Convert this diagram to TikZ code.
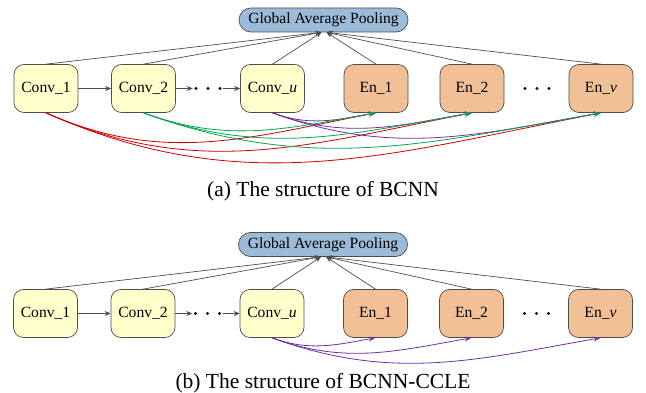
\documentclass[tikz,border=0pt]{standalone}
\usepackage{fontspec}
\setmainfont{Liberation Serif}
\newfontfamily\timesfont{Liberation Serif}
\usetikzlibrary{arrows.meta,calc}
\definecolor{convfill}{HTML}{FFFFCC}
\definecolor{enfill}{HTML}{F2C097}
\definecolor{gapfill}{HTML}{9BBBD9}
\definecolor{edgegray}{HTML}{4D4D4D}
\definecolor{cred}{HTML}{CC0000}
\definecolor{cgreen}{HTML}{00A651}
\definecolor{cpurple}{HTML}{7030A0}
\begin{document}
\begin{tikzpicture}[x=1pt,y=1pt,
  font=\timesfont\fontsize{15.6}{18}\selectfont,
  box/.style={draw=edgegray, rounded corners=10pt, minimum width=64pt, minimum height=48pt, inner sep=0pt, line width=0.7pt},
  conv/.style={box, fill=convfill},
  en/.style={box, fill=enfill},
  gapbox/.style={draw=edgegray, fill=gapfill, rounded corners=12pt, minimum width=169pt, minimum height=24pt, inner sep=0pt, line width=0.7pt},
  garrow/.style={draw=edgegray, line width=0.7pt, -{Stealth[length=6pt,width=5pt]}},
  skip/.style={line width=0.8pt, -{Stealth[length=7pt,width=5pt]}, out=-20, in=-170},
  deepskip/.style={skip, out=-24, in=-169},
  dotsbox/.style={minimum width=30pt, minimum height=4pt, inner sep=0pt},
  captext/.style={font=\timesfont\fontsize{21.5}{24}\selectfont, anchor=base}
]
\useasboundingbox (0,0) rectangle (646,-393);

% ---------- panel (a) ----------
\node[gapbox] (gapA) at (323.5,-20) {Global Average Pooling};
\node[conv] (c1A) at (46,-88.5) {Conv\_1};
\node[conv] (c2A) at (143.5,-88.5) {Conv\_2};
\node[conv] (cuA) at (272.5,-88.5) {Conv\_\textit{u}};
\node[en] (e1A) at (376,-88.5) {En\_1};
\node[en] (e2A) at (472,-88.5) {En\_2};
\node[en] (evA) at (601,-88.5) {En\_\textit{v}};
\node[dotsbox] (d1A) at (208,-88.5) {};
\node[dotsbox] (d2A) at (537,-88.5) {};
\foreach \dx in {-12,0,12} {
  \fill ($(d1A.center)+(\dx,0)$) circle (1.6);
  \fill ($(d2A.center)+(\dx,0)$) circle (1.6);
}
\draw[garrow] (c1A) -- (c2A);
\draw[garrow] (c2A) -- (d1A.west);
\draw[garrow] (d1A.east) -- (cuA);
\foreach \n in {c1A,c2A,cuA} \draw[garrow] (\n.north) -- ($(gapA.south)+(-2,0)$);
\foreach \n in {e1A,e2A,evA} \draw[garrow] (\n.north) -- ($(gapA.south)+(3,0)$);
\foreach \t in {e1A,e2A,evA} \draw[deepskip, cred] (c1A.south) to (\t.south);
\foreach \t in {e1A,e2A,evA} \draw[skip, cpurple] (cuA.south) to (\t.south);
\foreach \t in {e1A,e2A,evA} \draw[skip, cgreen] (c2A.south) to (\t.south);
\node[captext] (capA) at (323,-197) {(a) The structure of BCNN};

% ---------- panel (b) ----------
\node[gapbox] (gapB) at (323,-244.5) {Global Average Pooling};
\node[conv] (c1B) at (45.5,-313.5) {Conv\_1};
\node[conv] (c2B) at (143,-313.5) {Conv\_2};
\node[conv] (cuB) at (272,-313.5) {Conv\_\textit{u}};
\node[en] (e1B) at (375.5,-313.5) {En\_1};
\node[en] (e2B) at (471.5,-313.5) {En\_2};
\node[en] (evB) at (600.5,-313.5) {En\_\textit{v}};
\node[dotsbox] (d1B) at (207.5,-313.5) {};
\node[dotsbox] (d2B) at (536.5,-313.5) {};
\foreach \dx in {-12,0,12} {
  \fill ($(d1B.center)+(\dx,0)$) circle (1.6);
  \fill ($(d2B.center)+(\dx,0)$) circle (1.6);
}
\draw[garrow] (c1B) -- (c2B);
\draw[garrow] (c2B) -- (d1B.west);
\draw[garrow] (d1B.east) -- (cuB);
\foreach \n in {c1B,c2B,cuB} \draw[garrow] (\n.north) -- ($(gapB.south)+(-2,0)$);
\foreach \n in {e1B,e2B,evB} \draw[garrow] (\n.north) -- ($(gapB.south)+(3,0)$);
\foreach \t in {e1B,e2B,evB} \draw[skip, cpurple] (cuB.south) to (\t.south);
\node[captext] (capB) at (323,-388) {(b) The structure of BCNN-CCLE};
\end{tikzpicture}
\end{document}
